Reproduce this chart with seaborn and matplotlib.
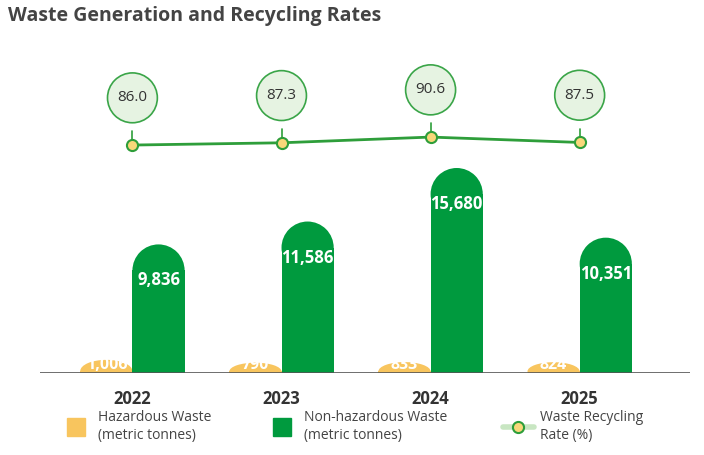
import numpy as np
import pandas as pd
import matplotlib.pyplot as plt
import seaborn as sns
from matplotlib.patches import Rectangle, Ellipse
from matplotlib.lines import Line2D

years = ['2022', '2023', '2024', '2025']
hazardous = [1006, 790, 833, 824]
non_hazardous = [9836, 11586, 15680, 10351]
recycling_rate = [86.0, 87.3, 90.6, 87.5]

yellow = '#F8C55E'
green = '#009A3E'
light_green = '#C8E6C2'

df = pd.DataFrame({
    'year': years * 2,
    'value': hazardous + non_hazardous,
    'type': ['Hazardous'] * 4 + ['Non-hazardous'] * 4,
})

sns.set_style('white')
plt.rcParams['font.family'] = ['Open Sans', 'DejaVu Sans']

fig = plt.figure(figsize=(7.04, 4.55), dpi=100)
ax = fig.add_axes([40 / 704, 1 - 373 / 455, 650 / 704, (373 - 168) / 455])
ax2 = fig.add_axes([40 / 704, 1 - 165 / 455, 650 / 704, 85 / 455])

sns.barplot(data=df, x='year', y='value', hue='type', palette=[yellow, green],
            width=0.7, saturation=1, ax=ax, legend=False)
ax.set_xlim(-0.62, 3.74)
ax.set_ylim(0, 15680)
fig.canvas.draw()

# replace plain bars with rounded-top bars
bbox = ax.get_window_extent()
px_x = (ax.get_xlim()[1] - ax.get_xlim()[0]) / bbox.width
px_y = (ax.get_ylim()[1] - ax.get_ylim()[0]) / bbox.height
bars = list(ax.patches)
for p in bars:
    x, w, h = p.get_x(), p.get_width(), p.get_height()
    c = p.get_facecolor()
    p.remove()
    ry = min((w / px_x) / 2 * px_y, h * 0.85)
    ax.add_patch(Rectangle((x, 0), w, h - ry, color=c, lw=0))
    ax.add_patch(Ellipse((x + w / 2, h - ry), w, 2 * ry, color=c, lw=0))
    val = f'{int(round(h)):,}'
    if h > 5000:
        ax.text(x + w / 2, h - 36 * px_y, val, ha='center', va='center', color='white',
                fontsize=12, fontweight='bold')
    else:
        ax.text(x + w / 2, 8 * px_y, val, ha='center', va='center', color='white',
                fontsize=11.5, fontweight='bold')

ax.axhline(0, color='#555555', lw=1.2, zorder=5)
sns.despine(ax=ax, left=True, bottom=True)
ax.set_yticks([])
ax.set_xlabel('')
ax.set_ylabel('')
ax.tick_params(axis='x', length=0, pad=12, labelsize=12, labelcolor='#333333')
for t in ax.get_xticklabels():
    t.set_fontweight('bold')

# recycling rate line
xs = np.arange(len(years))
sns.lineplot(x=xs, y=recycling_rate, ax=ax2, color='#2E9E3A', lw=2,
             marker='o', markersize=8, markerfacecolor='#F8D77A',
             markeredgecolor='#2E9E3A', markeredgewidth=1.5)
for xi, r in zip(xs, recycling_rate):
    ax2.plot([xi, xi], [r, r + 8], color='#2E9E3A', lw=1.2, zorder=1)
    ax2.annotate(f'{r:.1f}', (xi, r), xytext=(0, 34), textcoords='offset points',
                 ha='center', va='center', fontsize=11, color='#333333',
                 bbox=dict(boxstyle='circle,pad=0.65', fc='#E6F3E2', ec='#3AA548', lw=1.2))
ax2.set_xlim(-0.62, 3.74)
ax2.set_ylim(74.5, 123.5)
ax2.axis('off')

fig.text(0.012, 0.965, 'Waste Generation and Recycling Rates', fontsize=14,
         fontweight='bold', color='#444444', va='center')

handles = [
    Line2D([], [], marker='s', ls='', markersize=13, color=yellow),
    Line2D([], [], marker='s', ls='', markersize=13, color=green),
    Line2D([], [], color=light_green, lw=4, marker='o', markersize=8,
           markerfacecolor='#F8D77A', markeredgecolor='#2E9E3A', markeredgewidth=1.5),
]
labels = ['Hazardous Waste\n(metric tonnes)', 'Non-hazardous Waste\n(metric tonnes)',
          'Waste Recycling\nRate (%)']
fig.legend(handles, labels, loc='lower center', bbox_to_anchor=(0.5, 0.0), ncol=3,
           frameon=False, fontsize=10, labelcolor='#444444', columnspacing=4,
           handlelength=2.2, handletextpad=0.5)

fig.savefig('out.png', dpi=100)
